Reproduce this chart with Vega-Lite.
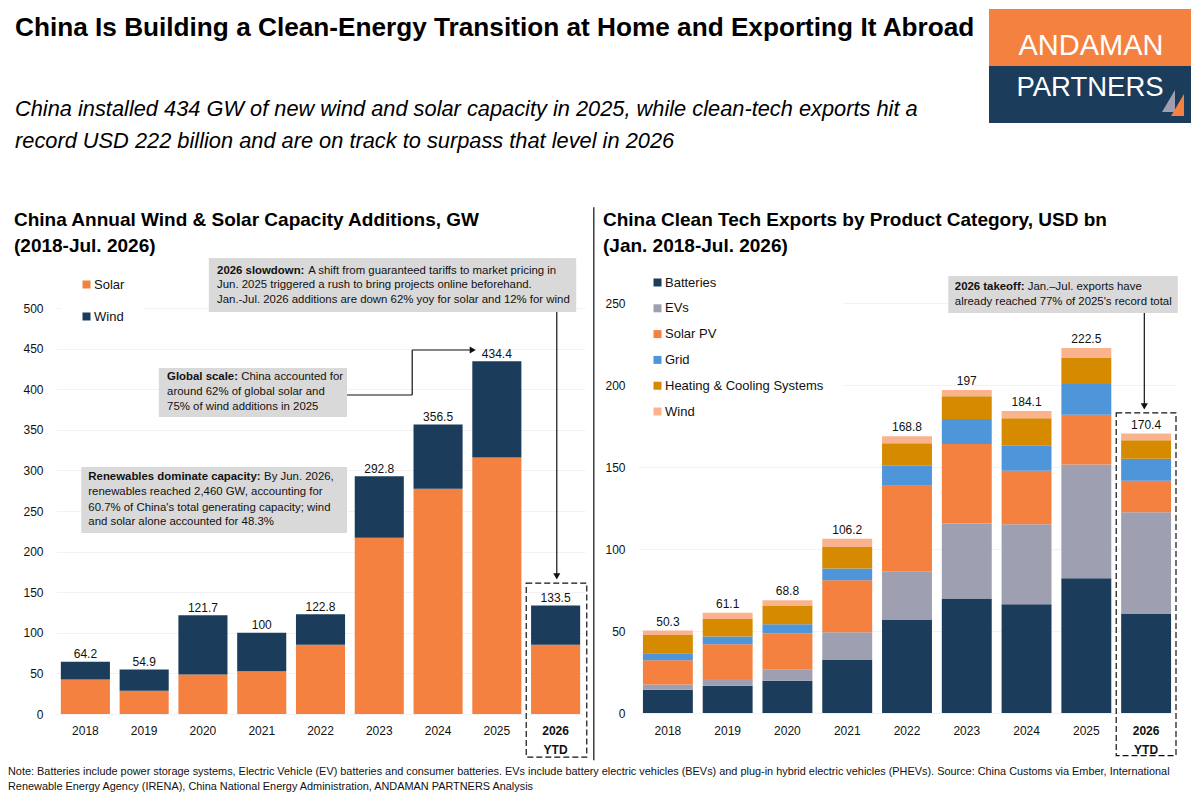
{
  "$schema": "https://vega.github.io/schema/vega-lite/v6.json",
  "padding": {"left": 8, "top": 0, "right": 0, "bottom": 0},
  "background": "white",
  "columns": 2,
  "spacing": {"row": 0, "column": 53},
  "bounds": "flush",
  "resolve": {"scale": {"color": "independent"}},
  "config": {
    "font": "Liberation Sans",
    "view": {"stroke": null},
    "axisXQuantitative": {"disable": true},
    "text": {"color": "#111111"}
  },
  "datasets": {
    "capacity": [
      {"year": "2018", "tech": "Solar", "rank": 1, "gw": 42.6},
      {"year": "2018", "tech": "Wind", "rank": 2, "gw": 21.6},
      {"year": "2019", "tech": "Solar", "rank": 1, "gw": 28.7},
      {"year": "2019", "tech": "Wind", "rank": 2, "gw": 26.2},
      {"year": "2020", "tech": "Solar", "rank": 1, "gw": 48.8},
      {"year": "2020", "tech": "Wind", "rank": 2, "gw": 72.9},
      {"year": "2021", "tech": "Solar", "rank": 1, "gw": 52.5},
      {"year": "2021", "tech": "Wind", "rank": 2, "gw": 47.5},
      {"year": "2022", "tech": "Solar", "rank": 1, "gw": 85.2},
      {"year": "2022", "tech": "Wind", "rank": 2, "gw": 37.6},
      {"year": "2023", "tech": "Solar", "rank": 1, "gw": 217},
      {"year": "2023", "tech": "Wind", "rank": 2, "gw": 75.8},
      {"year": "2024", "tech": "Solar", "rank": 1, "gw": 277.5},
      {"year": "2024", "tech": "Wind", "rank": 2, "gw": 79},
      {"year": "2025", "tech": "Solar", "rank": 1, "gw": 316},
      {"year": "2025", "tech": "Wind", "rank": 2, "gw": 118.4},
      {"year": "2026 YTD", "tech": "Solar", "rank": 1, "gw": 85.3},
      {"year": "2026 YTD", "tech": "Wind", "rank": 2, "gw": 48.2}
    ],
    "capacityTotals": [
      {"year": "2018", "total": 64.2},
      {"year": "2019", "total": 54.9},
      {"year": "2020", "total": 121.7},
      {"year": "2021", "total": 100},
      {"year": "2022", "total": 122.8},
      {"year": "2023", "total": 292.8},
      {"year": "2024", "total": 356.5},
      {"year": "2025", "total": 434.4},
      {"year": "2026 YTD", "total": 133.5}
    ],
    "exports": [
      {"year": "2018", "product": "Batteries", "rank": 1, "usd": 14.2},
      {"year": "2018", "product": "EVs", "rank": 2, "usd": 3.2},
      {"year": "2018", "product": "Solar PV", "rank": 3, "usd": 14.8},
      {"year": "2018", "product": "Grid", "rank": 4, "usd": 4.3},
      {"year": "2018", "product": "Heating & Cooling Systems", "rank": 5, "usd": 11.1},
      {"year": "2018", "product": "Wind", "rank": 6, "usd": 2.7},
      {"year": "2019", "product": "Batteries", "rank": 1, "usd": 16.6},
      {"year": "2019", "product": "EVs", "rank": 2, "usd": 4.1},
      {"year": "2019", "product": "Solar PV", "rank": 3, "usd": 21.2},
      {"year": "2019", "product": "Grid", "rank": 4, "usd": 4.7},
      {"year": "2019", "product": "Heating & Cooling Systems", "rank": 5, "usd": 10.7},
      {"year": "2019", "product": "Wind", "rank": 6, "usd": 3.8},
      {"year": "2020", "product": "Batteries", "rank": 1, "usd": 19.7},
      {"year": "2020", "product": "EVs", "rank": 2, "usd": 7},
      {"year": "2020", "product": "Solar PV", "rank": 3, "usd": 21.9},
      {"year": "2020", "product": "Grid", "rank": 4, "usd": 5.5},
      {"year": "2020", "product": "Heating & Cooling Systems", "rank": 5, "usd": 11.1},
      {"year": "2020", "product": "Wind", "rank": 6, "usd": 3.6},
      {"year": "2021", "product": "Batteries", "rank": 1, "usd": 32.4},
      {"year": "2021", "product": "EVs", "rank": 2, "usd": 16.8},
      {"year": "2021", "product": "Solar PV", "rank": 3, "usd": 31.7},
      {"year": "2021", "product": "Grid", "rank": 4, "usd": 7.2},
      {"year": "2021", "product": "Heating & Cooling Systems", "rank": 5, "usd": 13.2},
      {"year": "2021", "product": "Wind", "rank": 6, "usd": 4.9},
      {"year": "2022", "product": "Batteries", "rank": 1, "usd": 56.7},
      {"year": "2022", "product": "EVs", "rank": 2, "usd": 29.8},
      {"year": "2022", "product": "Solar PV", "rank": 3, "usd": 52.1},
      {"year": "2022", "product": "Grid", "rank": 4, "usd": 12.2},
      {"year": "2022", "product": "Heating & Cooling Systems", "rank": 5, "usd": 13.7},
      {"year": "2022", "product": "Wind", "rank": 6, "usd": 4.3},
      {"year": "2023", "product": "Batteries", "rank": 1, "usd": 69.9},
      {"year": "2023", "product": "EVs", "rank": 2, "usd": 45.6},
      {"year": "2023", "product": "Solar PV", "rank": 3, "usd": 48.6},
      {"year": "2023", "product": "Grid", "rank": 4, "usd": 15.2},
      {"year": "2023", "product": "Heating & Cooling Systems", "rank": 5, "usd": 13.8},
      {"year": "2023", "product": "Wind", "rank": 6, "usd": 3.9},
      {"year": "2024", "product": "Batteries", "rank": 1, "usd": 66.3},
      {"year": "2024", "product": "EVs", "rank": 2, "usd": 48.8},
      {"year": "2024", "product": "Solar PV", "rank": 3, "usd": 32.6},
      {"year": "2024", "product": "Grid", "rank": 4, "usd": 15.2},
      {"year": "2024", "product": "Heating & Cooling Systems", "rank": 5, "usd": 16.8},
      {"year": "2024", "product": "Wind", "rank": 6, "usd": 4.4},
      {"year": "2025", "product": "Batteries", "rank": 1, "usd": 82.1},
      {"year": "2025", "product": "EVs", "rank": 2, "usd": 69.5},
      {"year": "2025", "product": "Solar PV", "rank": 3, "usd": 30.2},
      {"year": "2025", "product": "Grid", "rank": 4, "usd": 18.8},
      {"year": "2025", "product": "Heating & Cooling Systems", "rank": 5, "usd": 16.2},
      {"year": "2025", "product": "Wind", "rank": 6, "usd": 5.7},
      {"year": "2026 YTD", "product": "Batteries", "rank": 1, "usd": 60.4},
      {"year": "2026 YTD", "product": "EVs", "rank": 2, "usd": 62},
      {"year": "2026 YTD", "product": "Solar PV", "rank": 3, "usd": 19.2},
      {"year": "2026 YTD", "product": "Grid", "rank": 4, "usd": 13.4},
      {"year": "2026 YTD", "product": "Heating & Cooling Systems", "rank": 5, "usd": 11.3},
      {"year": "2026 YTD", "product": "Wind", "rank": 6, "usd": 4.1}
    ],
    "exportTotals": [
      {"year": "2018", "total": 50.3},
      {"year": "2019", "total": 61.1},
      {"year": "2020", "total": 68.8},
      {"year": "2021", "total": 106.2},
      {"year": "2022", "total": 168.8},
      {"year": "2023", "total": 197},
      {"year": "2024", "total": 184.1},
      {"year": "2025", "total": 222.5},
      {"year": "2026 YTD", "total": 170.4}
    ]
  },
  "concat": [
    {
      "width": 529,
      "height": 303,
      "data": {"values": [{}]},
      "layer": [
        {"mark": {"type": "text", "text": "China Is Building a Clean-Energy Transition at Home and Exporting It Abroad", "fontSize": 26.2, "fontWeight": "bold", "align": "left", "baseline": "alphabetic", "color": "black"}, "encoding": {"x": {"datum": 15, "type": "quantitative", "scale": {"domain": [56, 585], "zero": false, "nice": false}}, "y": {"datum": 36, "type": "quantitative", "scale": {"domain": [303, 0], "zero": false, "nice": false}, "axis": null}}},
        {"mark": {"type": "text", "text": "China installed 434 GW of new wind and solar capacity in 2025, while clean-tech exports hit a", "fontSize": 21.8, "fontStyle": "italic", "align": "left", "baseline": "alphabetic", "color": "black"}, "encoding": {"x": {"datum": 15}, "y": {"datum": 116, "axis": null}}},
        {"mark": {"type": "text", "text": "record USD 222 billion and are on track to surpass that level in 2026", "fontSize": 21.8, "fontStyle": "italic", "align": "left", "baseline": "alphabetic", "color": "black"}, "encoding": {"x": {"datum": 15}, "y": {"datum": 148, "axis": null}}},
        {"mark": {"type": "text", "text": "China Annual Wind & Solar Capacity Additions, GW", "fontSize": 19, "fontWeight": "bold", "align": "left", "baseline": "alphabetic", "color": "black"}, "encoding": {"x": {"datum": 14}, "y": {"datum": 226, "axis": null}}},
        {"mark": {"type": "text", "text": "(2018-Jul. 2026)", "fontSize": 19, "fontWeight": "bold", "align": "left", "baseline": "alphabetic", "color": "black"}, "encoding": {"x": {"datum": 14}, "y": {"datum": 252, "axis": null}}}
      ]
    },
    {
      "width": 538,
      "height": 303,
      "data": {"values": [{}]},
      "layer": [
        {"mark": {"type": "rect", "color": "#F58140"}, "encoding": {"x": {"datum": 989, "type": "quantitative", "scale": {"domain": [638, 1176], "zero": false, "nice": false}}, "x2": {"datum": 1191}, "y": {"datum": 9, "type": "quantitative", "scale": {"domain": [303, 0], "zero": false, "nice": false}, "axis": null}, "y2": {"datum": 66}}},
        {"mark": {"type": "rect", "color": "#1B3C5A"}, "encoding": {"x": {"datum": 989}, "x2": {"datum": 1191}, "y": {"datum": 66, "axis": null}, "y2": {"datum": 123}}},
        {"mark": {"type": "text", "text": "ANDAMAN", "fontSize": 29, "align": "center", "baseline": "alphabetic", "color": "white"}, "encoding": {"x": {"datum": 1091}, "y": {"datum": 55, "axis": null}}},
        {"mark": {"type": "text", "text": "PARTNERS", "fontSize": 27.5, "align": "center", "baseline": "alphabetic", "color": "white"}, "encoding": {"x": {"datum": 1090}, "y": {"datum": 96, "axis": null}}},
        {"mark": {"type": "point", "shape": "M0.59,-1 L0.59,1 L-0.59,1 Z", "size": 484, "filled": true, "opacity": 1, "color": "#9E9FB0"}, "encoding": {"x": {"datum": 1168.5}, "y": {"datum": 101, "axis": null}}},
        {"mark": {"type": "point", "shape": "M0.59,-1 L0.59,1 L-0.59,1 Z", "size": 484, "filled": true, "opacity": 1, "color": "#F58140"}, "encoding": {"x": {"datum": 1177.5}, "y": {"datum": 105, "axis": null}}},
        {"mark": {"type": "text", "text": "China Clean Tech Exports by Product Category, USD bn", "fontSize": 19, "fontWeight": "bold", "align": "left", "baseline": "alphabetic", "color": "black"}, "encoding": {"x": {"datum": 603}, "y": {"datum": 226, "axis": null}}},
        {"mark": {"type": "text", "text": "(Jan. 2018-Jul. 2026)", "fontSize": 19, "fontWeight": "bold", "align": "left", "baseline": "alphabetic", "color": "black"}, "encoding": {"x": {"datum": 603}, "y": {"datum": 252, "axis": null}}}
      ]
    },
    {
      "width": 529,
      "height": 411,
      "layer": [
        {
          "layer": [
            {
              "data": {"name": "capacity"},
              "mark": {"type": "bar"},
              "encoding": {
                "x": {"field": "year", "type": "nominal", "title": null, "scale": {"paddingInner": 0.165, "paddingOuter": 0.0825}, "axis": {"labelAngle": 0, "ticks": false, "domain": false, "labelFontSize": 12, "labelColor": "#111111", "labelPadding": 11, "labelLineHeight": 19, "labelBaseline": "top", "labelExpr": "split(datum.label, ' ')", "labelFontWeight": {"expr": "datum.label == '2026 YTD' ? 'bold' : 'normal'"}}},
                "y": {"field": "gw", "type": "quantitative", "stack": "zero", "title": null, "scale": {"domain": [0, 506.2], "nice": false}, "axis": {"values": [0, 50, 100, 150, 200, 250, 300, 350, 400, 450, 500], "ticks": false, "domain": false, "gridColor": "#F2F2F2", "labelFontSize": 12, "labelColor": "#111111", "labelPadding": 13}},
                "color": {"field": "tech", "type": "nominal", "scale": {"domain": ["Solar", "Wind"], "range": ["#F58140", "#1B3C5A"]}, "legend": {"title": null, "orient": "none", "legendX": 5, "legendY": -44, "padding": 19, "fillColor": "white", "symbolType": "square", "symbolSize": 64, "symbolStrokeWidth": 0, "symbolOpacity": 1, "labelFontSize": 13, "labelOffset": 1, "labelColor": "#111111", "rowPadding": 18}},
                "order": {"field": "rank", "type": "ordinal"}
              }
            },
            {
              "data": {"name": "capacityTotals"},
              "mark": {"type": "text", "baseline": "alphabetic", "dy": -3.5, "fontSize": 12},
              "encoding": {
                "x": {"field": "year", "type": "nominal"},
                "y": {"field": "total", "type": "quantitative"},
                "text": {"field": "total", "type": "quantitative", "format": ".1~f"}
              }
            }
          ]
        },
        {
          "data": {"values": [{}]},
          "layer": [
            {"mark": {"type": "rule", "color": "#222222", "strokeWidth": 1.3}, "encoding": {"x": {"datum": 9.15, "type": "quantitative", "scale": {"domain": [0, 9], "nice": false, "zero": false}}, "y": {"datum": 624}, "y2": {"datum": -57}}},
            {"mark": {"type": "rect", "color": "#D9D9D9"}, "encoding": {"x": {"datum": 2.6}, "x2": {"datum": 8.85}, "y": {"datum": 561.6}, "y2": {"datum": 495}}},
            {"mark": {"type": "rect", "color": "#D9D9D9"}, "encoding": {"x": {"datum": 1.75}, "x2": {"datum": 4.95}, "y": {"datum": 426.1}, "y2": {"datum": 365.8}}},
            {"mark": {"type": "rect", "color": "#D9D9D9"}, "encoding": {"x": {"datum": 0.43}, "x2": {"datum": 4.95}, "y": {"datum": 304.2}, "y2": {"datum": 222.9}}},
            {"mark": {"type": "rect", "fillOpacity": 0, "stroke": "#111111", "strokeWidth": 1.2, "strokeDash": [6, 3]}, "encoding": {"x": {"datum": 8}, "x2": {"datum": 9.03}, "y": {"datum": 161.3}, "y2": {"datum": -53}}},
            {"mark": {"type": "rule", "color": "#111111", "strokeWidth": 1.2}, "encoding": {"x": {"datum": 8.52}, "y": {"datum": 495}, "y2": {"datum": 171}}},
            {"mark": {"type": "point", "shape": "triangle-down", "size": 50, "filled": true, "opacity": 1, "color": "#111111"}, "encoding": {"x": {"datum": 8.52}, "y": {"datum": 169.5}}},
            {"mark": {"type": "rule", "color": "#111111", "strokeWidth": 1.2}, "encoding": {"x": {"datum": 4.95}, "x2": {"datum": 6.06}, "y": {"datum": 392.9}}},
            {"mark": {"type": "rule", "color": "#111111", "strokeWidth": 1.2}, "encoding": {"x": {"datum": 6.06}, "y": {"datum": 392.9}, "y2": {"datum": 448.3}}},
            {"mark": {"type": "rule", "color": "#111111", "strokeWidth": 1.2}, "encoding": {"x": {"datum": 6.06}, "x2": {"datum": 7.04}, "y": {"datum": 448.3}}},
            {"mark": {"type": "point", "shape": "triangle-right", "size": 50, "filled": true, "opacity": 1, "color": "#111111"}, "encoding": {"x": {"datum": 7.09}, "y": {"datum": 448.3}}},
            {"mark": {"type": "text", "text": "2026 slowdown:", "fontSize": 11.4, "fontWeight": "bold", "align": "left"}, "encoding": {"x": {"datum": 2.74}, "y": {"datum": 545.6}}},
            {"mark": {"type": "text", "text": "A shift from guaranteed tariffs to market pricing in", "fontSize": 11.4, "align": "left"}, "encoding": {"x": {"datum": 4.29}, "y": {"datum": 545.6}}},
            {"mark": {"type": "text", "text": "Jun. 2025 triggered a rush to bring projects online beforehand.", "fontSize": 11.4, "align": "left"}, "encoding": {"x": {"datum": 2.74}, "y": {"datum": 528.3}}},
            {"mark": {"type": "text", "text": "Jan.-Jul. 2026 additions are down 62% yoy for solar and 12% for wind", "fontSize": 11.4, "align": "left"}, "encoding": {"x": {"datum": 2.74}, "y": {"datum": 509.9}}},
            {"mark": {"type": "text", "text": "Global scale:", "fontSize": 11.4, "fontWeight": "bold", "align": "left"}, "encoding": {"x": {"datum": 1.89}, "y": {"datum": 414.7}}},
            {"mark": {"type": "text", "text": "China accounted for", "fontSize": 11.4, "align": "left"}, "encoding": {"x": {"datum": 3.15}, "y": {"datum": 414.7}}},
            {"mark": {"type": "text", "text": "around 62% of global solar and", "fontSize": 11.4, "align": "left"}, "encoding": {"x": {"datum": 1.89}, "y": {"datum": 396.2}}},
            {"mark": {"type": "text", "text": "75% of wind additions in 2025", "fontSize": 11.4, "align": "left"}, "encoding": {"x": {"datum": 1.89}, "y": {"datum": 377.7}}},
            {"mark": {"type": "text", "text": "Renewables dominate capacity:", "fontSize": 11.4, "fontWeight": "bold", "align": "left"}, "encoding": {"x": {"datum": 0.55}, "y": {"datum": 291.5}}},
            {"mark": {"type": "text", "text": "By Jun. 2026,", "fontSize": 11.4, "align": "left"}, "encoding": {"x": {"datum": 3.54}, "y": {"datum": 291.5}}},
            {"mark": {"type": "text", "text": "renewables reached 2,460 GW, accounting for", "fontSize": 11.4, "align": "left"}, "encoding": {"x": {"datum": 0.55}, "y": {"datum": 273.1}}},
            {"mark": {"type": "text", "text": "60.7% of China's total generating capacity; wind", "fontSize": 11.4, "align": "left"}, "encoding": {"x": {"datum": 0.55}, "y": {"datum": 254.1}}},
            {"mark": {"type": "text", "text": "and solar alone accounted for 48.3%", "fontSize": 11.4, "align": "left"}, "encoding": {"x": {"datum": 0.55}, "y": {"datum": 236.1}}}
          ]
        }
      ],
      "resolve": {"scale": {"x": "independent"}}
    },
    {
      "width": 538,
      "height": 411,
      "layer": [
        {
          "layer": [
            {
              "data": {"name": "exports"},
              "mark": {"type": "bar"},
              "encoding": {
                "x": {"field": "year", "type": "nominal", "title": null, "scale": {"paddingInner": 0.165, "paddingOuter": 0.0825}, "axis": {"labelAngle": 0, "ticks": false, "domain": false, "labelFontSize": 12, "labelColor": "#111111", "labelPadding": 11, "labelLineHeight": 19, "labelBaseline": "top", "labelExpr": "split(datum.label, ' ')", "labelFontWeight": {"expr": "datum.label == '2026 YTD' ? 'bold' : 'normal'"}}},
                "y": {"field": "usd", "type": "quantitative", "stack": "zero", "title": null, "scale": {"domain": [-0.6, 250], "nice": false, "zero": false}, "axis": {"values": [0, 50, 100, 150, 200, 250], "ticks": false, "domain": false, "gridColor": "#F2F2F2", "labelFontSize": 12, "labelColor": "#111111", "labelPadding": 13}},
                "color": {"field": "product", "type": "nominal", "scale": {"domain": ["Batteries", "EVs", "Solar PV", "Grid", "Heating & Cooling Systems", "Wind"], "range": ["#1B3C5A", "#9E9FB0", "#F58140", "#4F95DA", "#D68A00", "#FAB38C"]}, "legend": {"title": null, "orient": "none", "legendX": -6, "legendY": -46, "padding": 19, "fillColor": "white", "symbolType": "square", "symbolSize": 64, "symbolStrokeWidth": 0, "symbolOpacity": 1, "labelFontSize": 13, "labelOffset": 1, "labelColor": "#111111", "labelLimit": 300, "rowPadding": 11.8, "labelExpr": "datum.label == 'Grid' ? '\u00a0Grid' : datum.label"}},
                "order": {"field": "rank", "type": "ordinal"}
              }
            },
            {
              "data": {"name": "exportTotals"},
              "mark": {"type": "text", "baseline": "alphabetic", "dy": -5, "fontSize": 12},
              "encoding": {
                "x": {"field": "year", "type": "nominal"},
                "y": {"field": "total", "type": "quantitative"},
                "text": {"field": "total", "type": "quantitative", "format": ".1~f"}
              }
            }
          ]
        },
        {
          "data": {"values": [{}]},
          "layer": [
            {"mark": {"type": "rect", "color": "#D9D9D9"}, "encoding": {"x": {"datum": 5.19, "type": "quantitative", "scale": {"domain": [0, 9], "nice": false, "zero": false}}, "x2": {"datum": 9.03}, "y": {"datum": 266.5}, "y2": {"datum": 243.9}}},
            {"mark": {"type": "rect", "fillOpacity": 0, "stroke": "#111111", "strokeWidth": 1.2, "strokeDash": [6, 3]}, "encoding": {"x": {"datum": 8}, "x2": {"datum": 9}, "y": {"datum": 183}, "y2": {"datum": -26}}},
            {"mark": {"type": "rule", "color": "#111111", "strokeWidth": 1.2}, "encoding": {"x": {"datum": 8.47}, "y": {"datum": 243.9}, "y2": {"datum": 188}}},
            {"mark": {"type": "point", "shape": "triangle-down", "size": 50, "filled": true, "opacity": 1, "color": "#111111"}, "encoding": {"x": {"datum": 8.47}, "y": {"datum": 187}}},
            {"mark": {"type": "text", "text": "2026 takeoff:", "fontSize": 11.4, "fontWeight": "bold", "align": "left"}, "encoding": {"x": {"datum": 5.3}, "y": {"datum": 259.6}}},
            {"mark": {"type": "text", "text": "Jan.–Jul. exports have", "fontSize": 11.4, "align": "left"}, "encoding": {"x": {"datum": 6.52}, "y": {"datum": 259.6}}},
            {"mark": {"type": "text", "text": "already reached 77% of 2025's record total", "fontSize": 11.4, "align": "left"}, "encoding": {"x": {"datum": 5.3}, "y": {"datum": 250.4}}}
          ]
        }
      ],
      "resolve": {"scale": {"x": "independent"}}
    },
    {
      "width": 529,
      "height": 86,
      "data": {"values": [{}]},
      "layer": [
        {"mark": {"type": "text", "text": "Note: Batteries include power storage systems, Electric Vehicle (EV) batteries and consumer batteries. EVs include battery electric vehicles (BEVs) and plug-in hybrid electric vehicles (PHEVs). Source: China Customs via Ember, International", "fontSize": 10.9, "align": "left"}, "encoding": {"x": {"datum": 8, "type": "quantitative", "scale": {"domain": [56, 585], "zero": false, "nice": false}}, "y": {"datum": 772, "type": "quantitative", "scale": {"domain": [800, 714], "zero": false, "nice": false}, "axis": null}}},
        {"mark": {"type": "text", "text": "Renewable Energy Agency (IRENA), China National Energy Administration, ANDAMAN PARTNERS Analysis", "fontSize": 10.9, "align": "left"}, "encoding": {"x": {"datum": 8}, "y": {"datum": 787, "axis": null}}}
      ]
    }
  ]
}
